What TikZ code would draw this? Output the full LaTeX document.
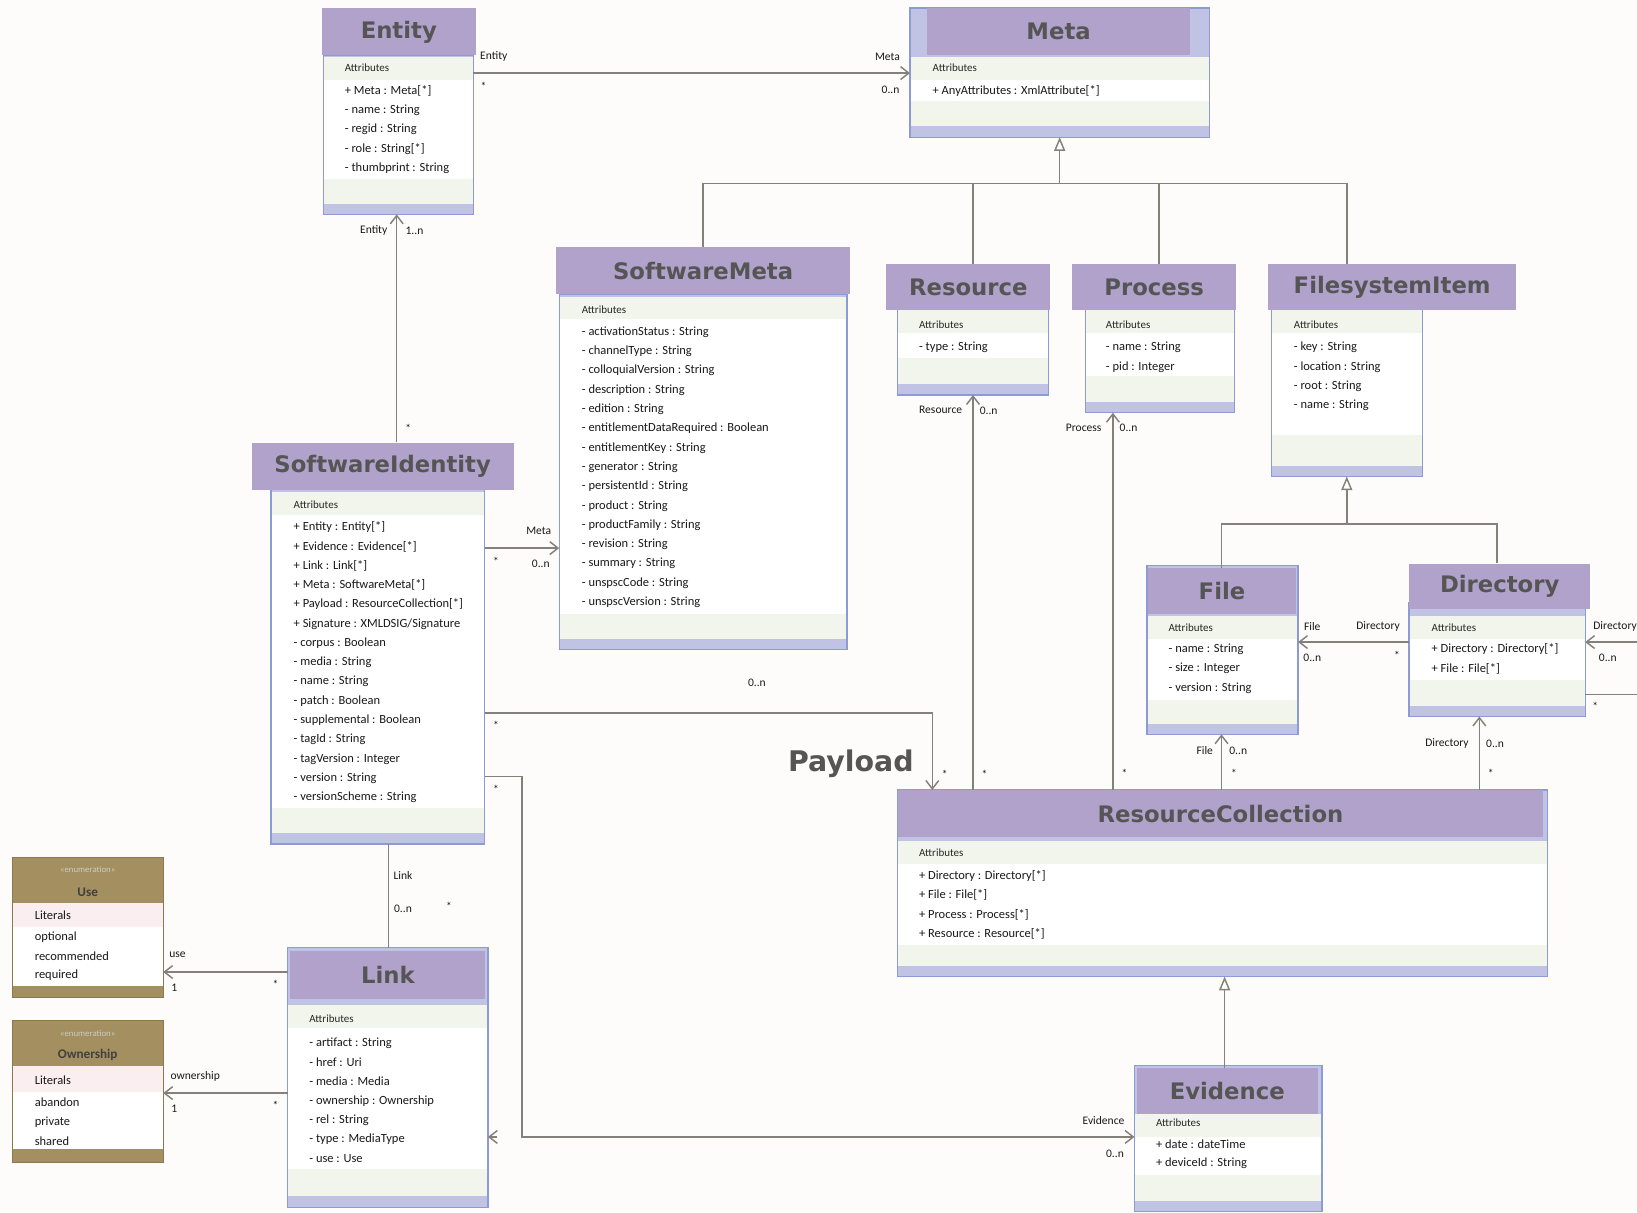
\documentclass[tikz,border=0pt]{standalone}
\usepackage{fontspec}
\setmainfont{Carlito}
\newfontfamily\headfont{DejaVu Sans}
\usetikzlibrary{arrows.meta, fit}
\definecolor{clrHead}{HTML}{B0A2CB}
\definecolor{clrTitle}{HTML}{555555}
\definecolor{clrLine}{HTML}{8C9BD3}
\definecolor{clrBase}{HTML}{C0C3E3}
\definecolor{clrBand}{HTML}{F2F5EC}
\definecolor{clrEnum}{HTML}{A38F5F}
\definecolor{clrEnumLine}{HTML}{8C7A4F}
\definecolor{clrLit}{HTML}{FBEEF0}
\definecolor{clrConn}{HTML}{86807B}
\definecolor{clrPage}{HTML}{FDFCFA}
\tikzset{
  head/.style = {inner sep=0, fill=clrHead},
  title/.style = {inner sep=0, text=clrTitle, font=\headfont\bfseries\fontsize{12.4}{14}\selectfont},
  bodybox/.style = {inner sep=0, fill=clrBase},
  bodyline/.style = {draw=clrLine, line width=0.7pt},
  attr/.style = {anchor=west, inner sep=0, font=\fontsize{6.8}{8}\selectfont, text=black!90},
  attrhead/.style = {anchor=west, inner sep=0, font=\fontsize{6}{7}\selectfont, text=black!85},
  mult/.style = {inner sep=0, font=\fontsize{6.3}{7}\selectfont, text=black!90},
  stereo/.style = {inner sep=0, font=\fontsize{4.8}{5}\selectfont, text=white!80!black},
  enumname/.style = {inner sep=0, font=\bfseries\fontsize{7.2}{8}\selectfont, text=black!75},
  assoc/.style = {-{Straight Barb[length=4.5pt, width=7pt]}, draw=clrConn, line width=0.8pt},
  conn/.style = {draw=clrConn, line width=0.8pt},
  gen/.style = {-{Triangle[length=7.5pt, width=6pt, fill=white]}, draw=clrConn, line width=0.8pt},
}
% class body: name, x left, y top, x right, y bottom, attribute band top, operation band top
\newcommand{\umlbody}[7]{%
  \node[bodybox, fit={(#2,#3) (#4,#5)}] (#1) {};
  \fill[clrBand] (#2,#6) rectangle (#4,#6+22);
  \fill[white] (#2,#6+22) rectangle (#4,#7);
  \fill[clrBand] (#2,#7) rectangle (#4,#5-10);
  \draw[bodyline] (#1.north west) rectangle (#1.south east);
}

\begin{document}
\begin{tikzpicture}[x=0.02cm, y=-0.02cm]
  \path[use as bounding box, fill=clrPage] (0,0) rectangle (1568,1161);

  % --- Entity ---
  \umlbody{entB}{310}{53}{453}{205}{55}{171}
  \node[head, fit={(308,8) (456,53)}] (entH) {};
  \node[title] (entT) at (entH.center) {Entity};
  \node[attrhead] (entA) at (330,65) {Attributes};
  \foreach \txt [count=\i from 0] in {+ Meta : Meta[*], - name : String, - regid : String,
      - role : String[*], - thumbprint : String}
    \node[attr] (ent\i) at (330,{87+18.5*\i}) {\txt};

  % --- Meta ---
  \umlbody{metaB}{872}{8}{1158}{131}{55}{97}
  \node[head, fit={(888,8) (1140,53)}] (metaH) {};
  \node[title] (metaT) at (metaH.center) {Meta};
  \node[attrhead] (metaA) at (893,65) {Attributes};
  \node[attr] (meta0) at (893,87) {+ AnyAttributes : XmlAttribute[*]};

  % --- SoftwareMeta ---
  \umlbody{smB}{536}{282}{811}{622}{284}{588}
  \node[head, fit={(533,237) (814,282)}] (smH) {};
  \node[title] (smT) at (smH.center) {SoftwareMeta};
  \node[attrhead] (smA) at (557,297) {Attributes};
  \foreach \txt [count=\i from 0] in {- activationStatus : String, - channelType : String,
      - colloquialVersion : String, - description : String, - edition : String,
      - entitlementDataRequired : Boolean, - entitlementKey : String, - generator : String,
      - persistentId : String, - product : String, - productFamily : String,
      - revision : String, - summary : String, - unspscCode : String, - unspscVersion : String}
    \node[attr] (sm\i) at (557,{318+18.5*\i}) {\txt};

  % --- Resource ---
  \umlbody{resB}{860}{297}{1004}{378}{297}{343}
  \node[head, fit={(849,253) (1006,297)}] (resH) {};
  \node[title] (resT) at (resH.center) {Resource};
  \node[attrhead] (resA) at (880,311) {Attributes};
  \node[attr] (res0) at (880,333) {- type : String};

  % --- Process ---
  \umlbody{procB}{1040}{297}{1182}{395}{297}{360}
  \node[head, fit={(1027,253) (1184,297)}] (procH) {};
  \node[title] (procT) at (procH.center) {Process};
  \node[attrhead] (procA) at (1059,311) {Attributes};
  \foreach \txt [count=\i from 0] in {- name : String, - pid : Integer}
    \node[attr] (proc\i) at (1059,{333+18.5*\i}) {\txt};

  % --- FilesystemItem ---
  \umlbody{fsB}{1218}{297}{1362}{456}{297}{417}
  \node[head, fit={(1215,253) (1452,297)}] (fsH) {};
  \node[title] (fsT) at (fsH.center) {FilesystemItem};
  \node[attrhead] (fsA) at (1239,311) {Attributes};
  \foreach \txt [count=\i from 0] in {- key : String, - location : String, - root : String, - name : String}
    \node[attr] (fs\i) at (1239,{333+18.3*\i}) {\txt};

  % --- File ---
  \umlbody{fileB}{1099}{542}{1243}{703}{590}{670}
  \node[head, fit={(1100,544) (1241,588)}] (fileH) {};
  \node[title] (fileT) at (fileH.center) {File};
  \node[attrhead] (fileA) at (1119,601) {Attributes};
  \foreach \txt [count=\i from 0] in {- name : String, - size : Integer, - version : String}
    \node[attr] (file\i) at (1119,{622+18.5*\i}) {\txt};

  % --- Directory ---
  \umlbody{dirB}{1350}{578}{1518}{686}{590}{651}
  \node[head, fit={(1350,540) (1523,583)}] (dirH) {};
  \node[title] (dirT) at (dirH.center) {Directory};
  \node[attrhead] (dirA) at (1371,601) {Attributes};
  \foreach \txt [count=\i from 0] in {+ Directory : Directory[*], + File : File[*]}
    \node[attr] (dir\i) at (1371,{622+19*\i}) {\txt};

  % --- SoftwareIdentity ---
  \umlbody{siB}{260}{469}{464}{808}{471}{774}
  \node[head, fit={(241,424) (492,469)}] (siH) {};
  \node[title] (siT) at (siH.center) {SoftwareIdentity};
  \node[attrhead] (siA) at (281,483) {Attributes};
  \foreach \txt [count=\i from 0] in {+ Entity : Entity[*], + Evidence : Evidence[*],
      + Link : Link[*], + Meta : SoftwareMeta[*], + Payload : ResourceCollection[*],
      + Signature : XMLDSIG/Signature, - corpus : Boolean, - media : String, - name : String,
      - patch : Boolean, - supplemental : Boolean, - tagId : String, - tagVersion : Integer,
      - version : String, - versionScheme : String}
    \node[attr] (si\i) at (281,{505+18.5*\i}) {\txt};

  % --- ResourceCollection ---
  \umlbody{rcB}{860}{757}{1482}{935}{806}{905}
  \node[head, fit={(860,757) (1478,802)}] (rcH) {};
  \node[title] (rcT) at (rcH.center) {ResourceCollection};
  \node[attrhead] (rcA) at (880,817) {Attributes};
  \foreach \txt [count=\i from 0] in {+ Directory : Directory[*], + File : File[*],
      + Process : Process[*], + Resource : Resource[*]}
    \node[attr] (rc\i) at (880,{839+18.4*\i}) {\txt};

  % --- Link ---
  \umlbody{linkB}{276}{908}{467}{1156}{963}{1120}
  \node[head, fit={(278,911) (465,957)}] (linkH) {};
  \node[title] (linkT) at (linkH.center) {Link};
  \node[attrhead] (linkA) at (296,976) {Attributes};
  \foreach \txt [count=\i from 0] in {- artifact : String, - href : Uri, - media : Media,
      - ownership : Ownership, - rel : String, - type : MediaType, - use : Use}
    \node[attr] (link\i) at (296,{999+18.5*\i}) {\txt};

  % --- Evidence ---
  \umlbody{evB}{1087}{1021}{1266}{1160}{1067}{1125}
  \node[head, fit={(1089,1023) (1262,1067)}] (evH) {};
  \node[title] (evT) at (evH.center) {Evidence};
  \node[attrhead] (evA) at (1107,1075) {Attributes};
  \foreach \txt [count=\i from 0] in {+ date : dateTime, + deviceId : String}
    \node[attr] (ev\i) at (1107,{1096+18.5*\i}) {\txt};

  % --- Enumerations ---
  \node[inner sep=0, fill=white, fit={(12,822) (156,955)}] (useB) {};
  \fill[clrEnum] (12,822) rectangle (156,865);
  \fill[clrLit] (12,865) rectangle (156,888);
  \fill[clrEnum] (12,944) rectangle (156,955);
  \draw[draw=clrEnumLine, line width=0.6pt] (useB.north west) rectangle (useB.south east);
  \node[stereo] (useS) at (84,833) {«enumeration»};
  \node[enumname] (useN) at (84,855) {Use};
  \node[attr] (useL) at (33,877) {Literals};
  \foreach \txt [count=\i from 0] in {optional, recommended, required}
    \node[attr] (use\i) at (33,{898+18*\i}) {\txt};

  \node[inner sep=0, fill=white, fit={(12,978) (156,1113)}] (ownB) {};
  \fill[clrEnum] (12,978) rectangle (156,1021);
  \fill[clrLit] (12,1021) rectangle (156,1046);
  \fill[clrEnum] (12,1101) rectangle (156,1113);
  \draw[draw=clrEnumLine, line width=0.6pt] (ownB.north west) rectangle (ownB.south east);
  \node[stereo] (ownS) at (84,990) {«enumeration»};
  \node[enumname] (ownN) at (84,1010) {Ownership};
  \node[attr] (ownL) at (33,1035) {Literals};
  \foreach \txt [count=\i from 0] in {abandon, private, shared}
    \node[attr] (own\i) at (33,{1056+18.5*\i}) {\txt};

  % --- Generalisations ---
  \coordinate (metaJ) at (1015,176);
  \draw[conn] (smH.north) |- (metaJ);
  \draw[conn] (resH.north -| 932,0) |- (metaJ);
  \draw[conn] (procH.north -| 1110,0) |- (metaJ);
  \draw[conn] (fsH.north -| 1290,0) |- (metaJ);
  \draw[gen] (metaJ) -- (metaB.south);

  \coordinate (fsJ) at (1290,502);
  \draw[conn] (fileH.north -| 1170,0) |- (fsJ);
  \draw[conn] (dirH.north -| 1434,0) |- (fsJ);
  \draw[gen] (fsJ) -- (fsB.south);

  \draw[gen] (evH.north -| 1173,0) -- (rcB.south -| 1173,0);

  % --- Associations ---
  \draw[assoc] (entB.east |- 0,70) -- (metaB.west |- 0,70);
  \node[mult] (m1) at (473,54) {Entity};
  \node[mult] (m2) at (463,83) {*};
  \node[mult] (m3) at (850,54) {Meta};
  \node[mult] (m4) at (853,86) {0..n};

  \draw[assoc] (siH.north -| 380,0) -- (entB.south -| 380,0);
  \node[mult] (m5) at (358,221) {Entity};
  \node[mult] (m6) at (397,221) {1..n};
  \node[mult] (m7) at (391,410) {*};

  \draw[assoc] (siB.east |- 0,525) -- (smB.west |- 0,525);
  \node[mult] (m8) at (516,508) {Meta};
  \node[mult] (m9) at (475,538) {*};
  \node[mult] (m10) at (518,540) {0..n};

  \draw[assoc] (siB.east |- 0,683) -| (rcH.north -| 893,0);
  \node[mult] (m11) at (475,695) {*};
  \node[mult] (m12) at (725,654) {0..n};
  \node[inner sep=0, text=clrTitle, font=\headfont\bfseries\fontsize{15.5}{18}\selectfont]
    (payload) at (815,732) {Payload};
  \node[mult] (m13) at (905,742) {*};

  \coordinate (evBend) at (500,1089);
  \draw[assoc] (siB.east |- 0,744) -| (evBend) -- (evB.west |- evBend);
  \node[mult] (m14) at (475,756) {*};
  \node[mult] (m15) at (1057,1073) {Evidence};
  \node[mult] (m16) at (1068,1105) {0..n};
  \draw[assoc] (linkB.east |- evBend) ++(9,0) -- (linkB.east |- evBend);

  \draw[conn] (siB.south -| 372,0) -- (linkB.north -| 372,0);
  \node[mult] (m17) at (386,839) {Link};
  \node[mult] (m18) at (386,870) {0..n};
  \node[mult] (m19) at (430,868) {*};

  \draw[assoc] (linkB.west |- 0,931) -- (useB.east |- 0,931);
  \node[mult] (m20) at (170,914) {use};
  \node[mult] (m21) at (167,946) {1};
  \node[mult] (m22) at (264,943) {*};

  \draw[assoc] (linkB.west |- 0,1047) -- (ownB.east |- 0,1047);
  \node[mult] (m23) at (187,1031) {ownership};
  \node[mult] (m24) at (167,1062) {1};
  \node[mult] (m25) at (264,1059) {*};

  \draw[assoc] (rcH.north -| 932,0) -- (resB.south -| 932,0);
  \node[mult] (m26) at (901,393) {Resource};
  \node[mult] (m27) at (947,393) {0..n};
  \node[mult] (m28) at (943,742) {*};

  \draw[assoc] (rcH.north -| 1066,0) -- (procB.south -| 1066,0);
  \node[mult] (m29) at (1038,410) {Process};
  \node[mult] (m30) at (1081,410) {0..n};
  \node[mult] (m31) at (1077,741) {*};

  \draw[assoc] (rcH.north -| 1170,0) -- (fileB.south -| 1170,0);
  \node[mult] (m32) at (1154,719) {File};
  \node[mult] (m33) at (1186,719) {0..n};
  \node[mult] (m34) at (1182,741) {*};

  \draw[assoc] (rcH.north -| 1417,0) -- (dirB.south -| 1417,0);
  \node[mult] (m35) at (1386,712) {Directory};
  \node[mult] (m36) at (1432,712) {0..n};
  \node[mult] (m37) at (1428,741) {*};

  \draw[assoc] (dirB.west |- 0,615) -- (fileB.east |- 0,615);
  \node[mult] (m38) at (1257,600) {File};
  \node[mult] (m39) at (1257,630) {0..n};
  \node[mult] (m40) at (1320,600) {Directory};
  \node[mult] (m41) at (1338,628) {*};

  \coordinate (dirLoopA) at (1568,665);
  \coordinate (dirLoopB) at (1568,615);
  \draw[conn] (dirB.east |- dirLoopA) -- (dirLoopA);
  \draw[assoc] (dirLoopB) -- (dirB.east |- dirLoopB);
  \node[mult] (m42) at (1547,600) {Directory};
  \node[mult] (m43) at (1540,630) {0..n};
  \node[mult] (m44) at (1528,677) {*};
\end{tikzpicture}
\end{document}
